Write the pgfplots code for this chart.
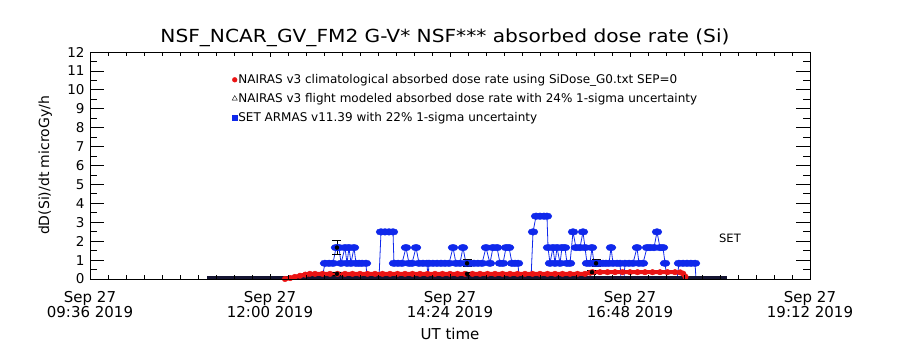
\documentclass[border=0pt]{standalone}
\usepackage{pgfplots}
\usepackage{pgfplotstable}
\pgfplotsset{compat=1.18}
\usepackage{fontspec}
\setmainfont{DejaVu Sans}
\definecolor{armas}{RGB}{15,40,235}
\definecolor{nred}{RGB}{235,20,20}
\definecolor{nblk}{RGB}{20,20,50}

\pgfplotstableread{
h y
12.693 0
12.733 0.83
12.787 0.83
12.840 0.83
12.880 1.66
12.920 1.66
12.947 0.83
13.000 1.66
13.027 0.83
13.053 1.66
13.080 0.83
13.120 1.66
13.147 0.83
13.187 0.83
13.227 0.83
13.280 0.83
13.293 0
13.453 0
13.480 2.49
13.533 2.49
13.587 2.49
13.640 2.49
13.653 0.83
13.707 0.83
13.760 0.83
13.813 1.66
13.853 0.83
13.893 0.83
13.947 1.66
13.987 0.83
14.040 0.83
14.093 0.83
14.107 0
14.120 0.83
14.173 0.83
14.227 0.83
14.280 0.83
14.333 0.83
14.387 0.83
14.440 1.66
14.480 0.83
14.533 0.83
14.573 1.66
14.613 0.83
14.667 0.83
14.720 0.83
14.773 0.83
14.827 0.83
14.880 1.66
14.933 0.83
14.973 1.66
15.027 1.66
15.067 0.83
15.107 0.83
15.147 1.66
15.187 1.66
15.227 0.83
15.267 0.83
15.307 0.83
15.320 0
15.480 0
15.507 2.49
15.547 3.32
15.600 3.32
15.653 3.32
15.693 3.32
15.707 1.66
15.733 0.83
15.773 1.66
15.800 0.83
15.827 1.66
15.867 0.83
15.893 1.66
15.933 1.66
15.960 0.83
16.000 0.83
16.040 2.49
16.080 1.66
16.133 1.66
16.173 2.49
16.200 1.66
16.227 0.83
16.267 0.83
16.293 1.66
16.320 0.83
16.360 0.83
16.400 0.83
16.440 0.83
16.480 0.83
16.520 0.83
16.547 1.66
16.573 0.83
16.627 0.83
16.667 0.83
16.680 0
16.720 0
16.733 0.83
16.787 0.83
16.840 0.83
16.893 1.66
16.920 0.83
16.973 0.83
17.027 1.66
17.067 1.66
17.120 1.66
17.160 2.49
17.200 1.66
17.240 1.66
17.267 0.83
17.293 0
17.427 0
17.453 0.83
17.507 0.83
17.560 0.83
17.613 0.83
17.667 0.83
17.680 0
}\armasdata

\pgfplotstableread{
h y
12.20 0
12.27 0.05
12.33 0.11
12.40 0.17
12.47 0.23
12.53 0.27
12.6 0.27
12.7 0.27
12.8 0.27
12.9 0.27
13.0 0.27
13.1 0.27
13.2 0.27
13.3 0.27
13.4 0.27
13.5 0.27
13.6 0.27
13.7 0.27
13.8 0.27
13.9 0.27
14.0 0.27
14.1 0.27
14.2 0.27
14.3 0.27
14.4 0.27
14.5 0.27
14.6 0.27
14.7 0.27
14.8 0.27
14.9 0.27
15.0 0.27
15.1 0.27
15.2 0.27
15.3 0.27
15.4 0.27
15.5 0.27
15.6 0.27
15.7 0.27
15.8 0.27
15.9 0.27
16.0 0.27
16.1 0.27
16.2 0.27
16.27 0.33
16.3 0.36
16.4 0.36
16.5 0.36
16.6 0.36
16.7 0.36
16.8 0.36
16.9 0.36
17.0 0.36
17.1 0.36
17.2 0.36
17.3 0.36
17.4 0.36
17.47 0.35
17.51 0.28
17.54 0.12
}\reddata

\begin{document}
\begin{tikzpicture}
\useasboundingbox (0,0) rectangle (900pt,350pt);
\begin{axis}[
  at={(90pt,71pt)}, anchor=south west, scale only axis,
  width=720pt, height=227pt,
  xmin=9.6, xmax=19.2, ymin=0, ymax=12,
  xtick=\empty,
  ytick={0,1,...,12}, minor y tick num=1,
  major tick length=14pt, minor tick length=7pt,
  tick style={black, line width=0.8pt},
  axis line style={line width=0.9pt},
  yticklabel style={font=\fontsize{13.5}{14}\selectfont, xshift=-2pt},
  /pgf/number format/assume math mode=true,
  ylabel={dD(Si)/dt microGy/h},
  every axis y label/.style={at={(axis description cs:-0.062,0.5)}, rotate=90, anchor=center, font=\fontsize{14}{16}\selectfont},
  clip=false,
  legend style={at={(rel axis cs:0.193,0.915)}, anchor=north west, draw=none, fill=none,
    font=\fontsize{12}{13}\selectfont, row sep=6.2pt, nodes={inner sep=1pt}},
  legend cell align=left,
  legend image code/.code={\draw[#1] plot coordinates {(0.1cm,0cm)};},
]
\addlegendimage{only marks, mark=*, mark size=2.4pt, nred}
\addlegendentry{NAIRAS v3 climatological absorbed dose rate using SiDose\_G0.txt SEP=0}
\addlegendimage{only marks, mark=triangle, mark size=3pt, black}
\addlegendentry{NAIRAS v3 flight modeled absorbed dose rate with 24\% 1-sigma uncertainty}
\addlegendimage{only marks, mark=square*, mark size=2.6pt, armas}
\addlegendentry{SET ARMAS v11.39 with 22\% 1-sigma uncertainty}

\addplot[armas, line width=0.8pt, mark=none, forget plot] table[x=h,y=y] {\armasdata};
\addplot[armas, only marks, mark=*, mark size=3.3pt, mark options={xscale=1.5}, restrict y to domain=0.5:5, forget plot] table[x=h,y=y] {\armasdata};
\addplot[nblk, line width=3pt, forget plot] coordinates {(11.16,0.08) (18.09,0.08)};
\addplot[nred, line width=4pt, forget plot] table[x=h,y=y] {\reddata};
\addplot[nred, only marks, mark=*, mark size=2.8pt, forget plot] table[x=h,y=y] {\reddata};
\addplot[black, only marks, mark=none, forget plot,
  error bars/.cd, y dir=both, y explicit, error mark=|,
  error bar style={black, line width=0.9pt},
  error mark options={black, mark size=4.5pt, line width=0.9pt}]
  coordinates {
  (12.893,1.66) +- (0,0.37)
  (14.627,0.83) +- (0,0.18)
  (16.347,0.83) +- (0,0.18)
  (12.893,0.27) +- (0,0.1)
  (14.627,0.27) +- (0,0.1)
  (16.293,0.36) +- (0,0.1)
  };
\node[font=\fontsize{11.5}{12}\selectfont] at (axis cs:18.133,2.16) {SET};
\node[font=\fontsize{18}{20}\selectfont] at (rel axis cs:0.493,1) [yshift=14pt] {\scalebox{1.12}[1]{NSF\_NCAR\_GV\_FM2 G-V* NSF*** absorbed dose rate (Si)}};
\end{axis}
\begin{axis}[
  at={(90pt,71pt)}, anchor=south west, scale only axis,
  width=720pt, height=227pt,
  xmin=9.6, xmax=19.2, ymin=0, ymax=12,
  ytick=\empty,
  xtick={9.6,12,14.4,16.8,19.2}, minor x tick num=9,
  major tick length=5pt, minor tick length=4pt,
  tick style={black, line width=0.8pt},
  axis line style={line width=0.9pt},
  xticklabels={{Sep 27\\09:36 2019},{Sep 27\\12:00 2019},{Sep 27\\14:24 2019},{Sep 27\\16:48 2019},{Sep 27\\19:12 2019}},
  xticklabel style={align=center, font=\fontsize{15}{14}\selectfont, yshift=-9pt},
  xlabel={UT time},
  every axis x label/.style={at={(axis description cs:0.5,-0.24)}, anchor=center, font=\fontsize{15}{16}\selectfont},
]
\end{axis}
\end{tikzpicture}
\end{document}
